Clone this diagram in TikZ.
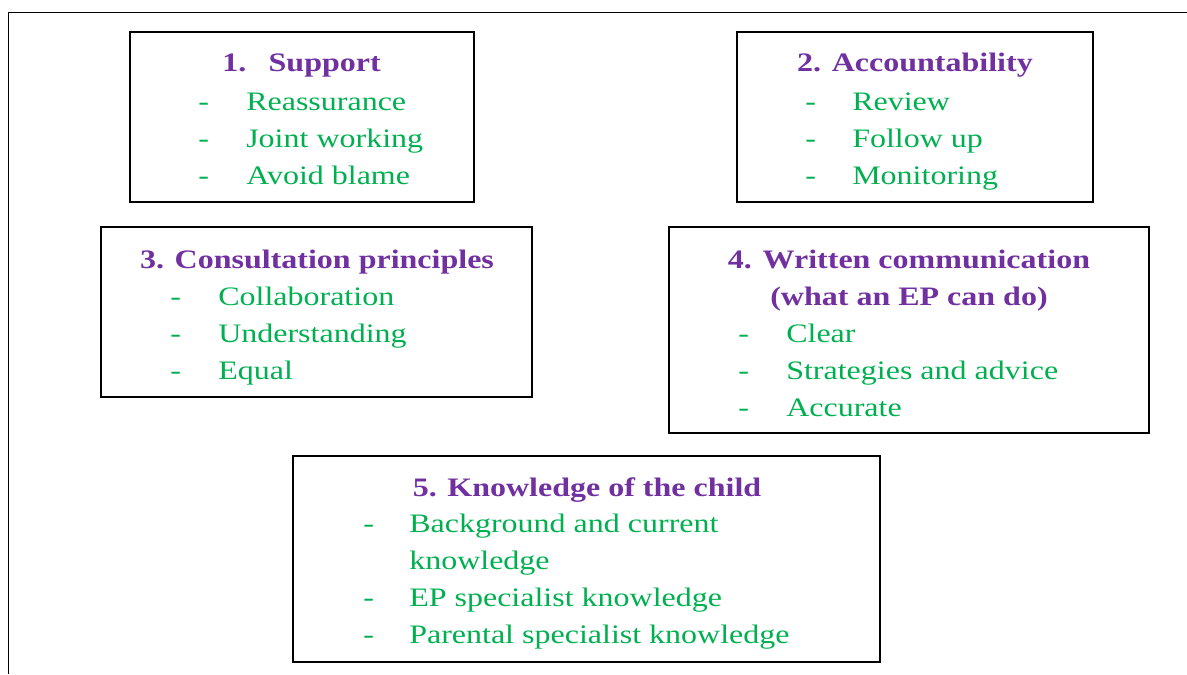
\documentclass[tikz,border=0pt]{standalone}
\usepackage{fontspec}
\setmainfont{Liberation Serif}
\usepackage{tikz}
\usetikzlibrary{positioning}

\definecolor{titlepurple}{RGB}{112,48,160}
\definecolor{itemgreen}{RGB}{0,176,80}
\newcommand{\wide}[1]{\scalebox{1.2}[1]{#1}}

\begin{document}
\begin{tikzpicture}[x=0.75pt,y=-0.75pt,
	box/.style={draw, line width=1.4pt, rectangle, inner sep=0pt},
	heading/.style={text=titlepurple, font=\fontsize{20}{24}\selectfont\bfseries, inner sep=0pt, anchor=base},
	dashmark/.style={text=itemgreen, font=\fontsize{20}{24}\selectfont, inner sep=0pt, anchor=base west},
	entry/.style={text=itemgreen, font=\fontsize{20}{24}\selectfont, inner sep=0pt, anchor=base west}]
				\useasboundingbox (0,0) rectangle (1187,674);
				\draw[line width=1.4pt] (1187,12.5) -- (8.5,12.5) -- (8.5,674);
				% the five boxes
				\node[box, minimum width=258pt, minimum height=127.5pt] (b1) at (302,117) {};
				\node[box, minimum width=267pt, minimum height=127.5pt] (b2) at (915,117) {};
				\node[box, minimum width=323.25pt, minimum height=127.5pt] (b3) at (316.5,312) {};
				\node[box, minimum width=360pt, minimum height=154.5pt] (b4) at (909,330) {};
				\node[box, minimum width=440.25pt, minimum height=154.5pt] (b5) at (586.5,559) {};
				% 1
				\node[heading, anchor=base west] (h1) at (222,72) {\wide{1.\hspace{14pt}Support}};
				\node[dashmark] (d1a) at (198,110) {\wide{-}};
				\node[dashmark] (d1b) at (198,147) {\wide{-}};
				\node[dashmark] (d1c) at (198,184) {\wide{-}};
				\node[entry] (e1a) at (246,110) {\wide{Reassurance}};
				\node[entry] (e1b) at (246,147) {\wide{Joint working}};
				\node[entry] (e1c) at (246,184) {\wide{Avoid blame}};
				% 2
				\node[heading] (h2) at (915,72) {\wide{2. Accountability}};
				\node[dashmark] (d2a) at (805,110) {\wide{-}};
				\node[dashmark] (d2b) at (805,147) {\wide{-}};
				\node[dashmark] (d2c) at (805,184) {\wide{-}};
				\node[entry] (e2a) at (852,110) {\wide{Review}};
				\node[entry] (e2b) at (852,147) {\wide{Follow up}};
				\node[entry] (e2c) at (852,184) {\wide{Monitoring}};
				% 3
				\node[heading] (h3) at (317,268) {\wide{3. Consultation principles}};
				\node[dashmark] (d3a) at (170,305) {\wide{-}};
				\node[dashmark] (d3b) at (170,342) {\wide{-}};
				\node[dashmark] (d3c) at (170,379) {\wide{-}};
				\node[entry] (e3a) at (218,305) {\wide{Collaboration}};
				\node[entry] (e3b) at (218,342) {\wide{Understanding}};
				\node[entry] (e3c) at (218,379) {\wide{Equal}};
				% 4
				\node[heading] (h4) at (909,268) {\wide{4. Written communication}};
				\node[heading] (h4b) at (909,305) {\wide{(what an EP can do)}};
				\node[dashmark] (d4a) at (738,342) {\wide{-}};
				\node[dashmark] (d4b) at (738,379) {\wide{-}};
				\node[dashmark] (d4c) at (738,416) {\wide{-}};
				\node[entry] (e4a) at (786,342) {\wide{Clear}};
				\node[entry] (e4b) at (786,379) {\wide{Strategies and advice}};
				\node[entry] (e4c) at (786,416) {\wide{Accurate}};
				% 5
				\node[heading] (h5) at (587,496) {\wide{5. Knowledge of the child}};
				\node[dashmark] (d5a) at (363,532) {\wide{-}};
				\node[dashmark] (d5b) at (363,606) {\wide{-}};
				\node[dashmark] (d5c) at (363,643) {\wide{-}};
				\node[entry] (e5a) at (409,532) {\wide{Background and current}};
				\node[entry] (e5b) at (409,569) {\wide{knowledge}};
				\node[entry] (e5c) at (409,606) {\wide{EP specialist knowledge}};
				\node[entry] (e5d) at (409,643) {\wide{Parental specialist knowledge}};
				\end{tikzpicture}
\end{document}
